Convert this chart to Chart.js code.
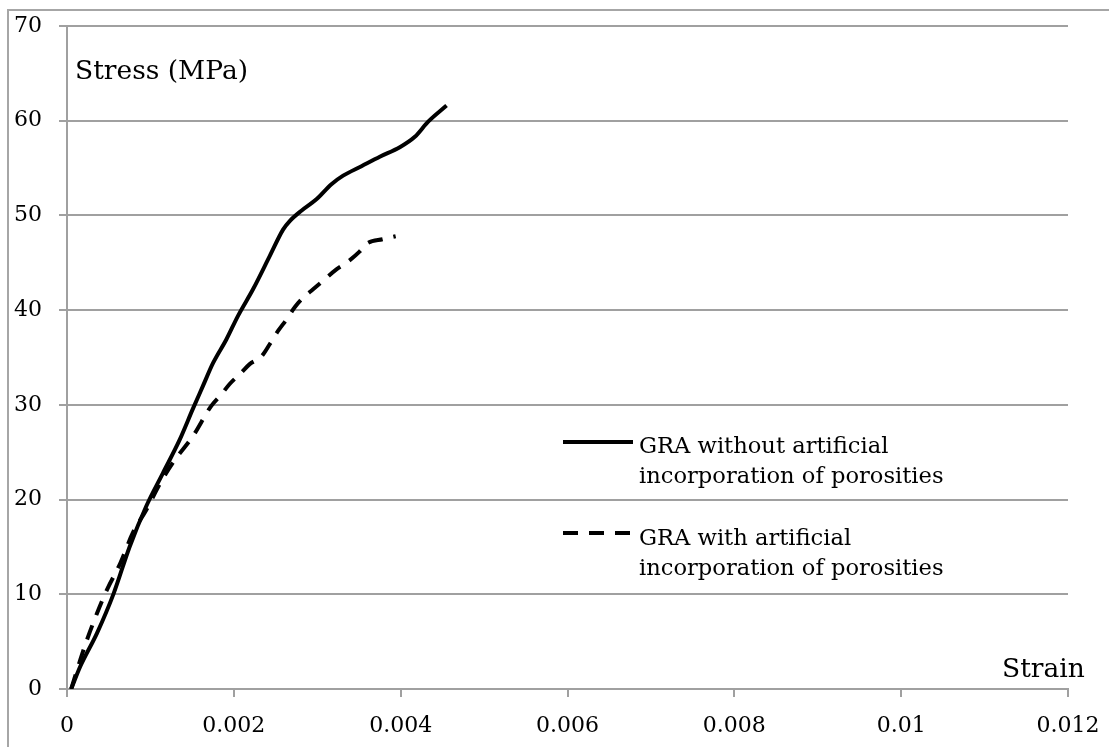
<!DOCTYPE html>
<html>
<head>
<meta charset="utf-8">
<script src="https://cdn.jsdelivr.net/npm/chart.js@4/dist/chart.umd.min.js"></script>
<style>
  html, body { margin: 0; padding: 0; background: #fff; }
  #wrap { position: relative; width: 1109px; height: 747px; }
</style>
</head>
<body>
<div id="wrap"><canvas id="stressChart"></canvas></div>
<script>
// Stress-strain curves, values
const solidStrain = [0.00005, 0.00016, 0.00036, 0.00056, 0.00075, 0.00095, 0.00115, 0.00135, 0.00151, 0.00163,
    0.00175, 0.00191, 0.00205, 0.00223, 0.00243, 0.00259, 0.00267, 0.00281, 0.00299, 0.00317,
    0.00331, 0.00353, 0.00375, 0.00399, 0.00417, 0.00433, 0.00455];
const solidStress = [0, 2.4, 5.9, 10.1, 15.0, 19.3, 22.8, 26.3, 29.6, 32.0,
    34.4, 36.9, 39.4, 42.2, 45.7, 48.5, 49.4, 50.5, 51.7, 53.3,
    54.2, 55.2, 56.2, 57.2, 58.3, 59.9, 61.6];

const dashStrain = [0.00005, 0.00016, 0.00024, 0.00036, 0.00048, 0.00064, 0.00079, 0.00095, 0.00111, 0.00127,
    0.00151, 0.00173, 0.00185, 0.00195, 0.00209, 0.00219, 0.00233, 0.00243, 0.00253, 0.00263,
    0.00273, 0.00283, 0.00295, 0.00307, 0.00323, 0.00335, 0.00351, 0.00359, 0.00379, 0.00394];
const dashStress = [0, 3.1, 5.2, 8.0, 10.5, 13.3, 16.5, 18.9, 21.6, 23.9,
    26.7, 29.9, 31.1, 32.2, 33.4, 34.3, 35.1, 36.4, 37.8, 39.0,
    40.3, 41.3, 42.2, 43.1, 44.3, 45.0, 46.2, 47.0, 47.5, 47.8];

const seriesNames = [
    ['GRA without artificial', 'incorporation of porosities'],
    ['GRA with artificial', 'incorporation of porosities']
];
const xTicks = [0, 0.002, 0.004, 0.006, 0.008, 0.01, 0.012];
const yTicks = [0, 10, 20, 30, 40, 50, 60, 70];
const xTitle = 'Strain';
const yTitle = 'Stress (MPa)';

const FONT = "'DejaVu Serif', serif";
const GRID = '#a0a0a0';

const toPoints = (xs, ys) => xs.map((x, i) => ({ x: x, y: ys[i] }));

// frame, axis titles and the two-line legend are drawn by hand
const extras = {
    id: 'extras',
    beforeDraw(chart) {
        const ctx = chart.ctx;
        ctx.save();
        ctx.fillStyle = '#fff';
        ctx.fillRect(0, 0, chart.width, chart.height);
        ctx.strokeStyle = '#a6a6a6';
        ctx.lineWidth = 2;
        ctx.beginPath();
        ctx.moveTo(8, chart.height);
        ctx.lineTo(8, 10);
        ctx.lineTo(chart.width, 10);
        ctx.stroke();
        ctx.restore();
    },
    afterDraw(chart) {
        const ctx = chart.ctx;
        ctx.save();
        ctx.fillStyle = '#000';
        ctx.textBaseline = 'alphabetic';
        ctx.font = '26.5px ' + FONT;
        ctx.fillText(yTitle, 75, 79);
        ctx.fillText(xTitle, 1002, 677);

        // legend
        const rows = [{ lineY: 442, textY: 453 }, { lineY: 533, textY: 545 }];
        ctx.font = '22.6px ' + FONT;
        chart.data.datasets.forEach((ds, i) => {
            const r = rows[i];
            ctx.strokeStyle = ds.borderColor;
            ctx.lineWidth = ds.borderWidth;
            ctx.setLineDash(ds.borderDash || []);
            ctx.beginPath();
            ctx.moveTo(563, r.lineY);
            ctx.lineTo(633, r.lineY);
            ctx.stroke();
            ctx.setLineDash([]);
            seriesNames[i].forEach((line, j) => {
                ctx.fillText(line, 639, r.textY + j * 30);
            });
        });
        ctx.restore();
    }
};

new Chart(document.getElementById('stressChart'), {
    type: 'line',
    data: {
        datasets: [{
            label: seriesNames[0].join(' '),
            data: toPoints(solidStrain, solidStress),
            borderColor: '#000',
            borderWidth: 4,
            pointRadius: 0,
            cubicInterpolationMode: 'monotone',
            fill: false
        }, {
            label: seriesNames[1].join(' '),
            data: toPoints(dashStrain, dashStress),
            borderColor: '#000',
            borderWidth: 4,
            borderDash: [15, 11],
            pointRadius: 0,
            cubicInterpolationMode: 'monotone',
            fill: false
        }]
    },
    options: {
        responsive: true,
        maintainAspectRatio: false,
        animation: false,
        layout: { padding: { left: 0, top: 26, right: 41, bottom: 0 } },
        plugins: {
            legend: { display: false },
            tooltip: { enabled: false }
        },
        scales: {
            x: {
                type: 'linear',
                min: 0,
                max: 0.012,
                afterBuildTicks: s => { s.ticks = xTicks.map(v => ({ value: v })); },
                afterFit: s => { s.height = 58; s.paddingLeft = 0; s.paddingRight = 0; },
                grid: { drawOnChartArea: false, color: GRID, lineWidth: 2, tickLength: 8 },
                border: { color: GRID, width: 2 },
                ticks: {
                    color: '#000',
                    font: { family: FONT, size: 22 },
                    padding: 16,
                    maxRotation: 0,
                    callback: v => String(+v.toFixed(3))
                }
            },
            y: {
                min: 0,
                max: 70,
                afterBuildTicks: s => { s.ticks = yTicks.map(v => ({ value: v })); },
                afterFit: s => { s.width = 67; s.paddingTop = 0; s.paddingBottom = 0; },
                grid: { color: GRID, lineWidth: 2, tickLength: 8 },
                border: { color: GRID, width: 2 },
                ticks: {
                    color: '#000',
                    font: { family: FONT, size: 22 },
                    padding: 17
                }
            }
        }
    },
    plugins: [extras]
});
</script>
</body>
</html>
